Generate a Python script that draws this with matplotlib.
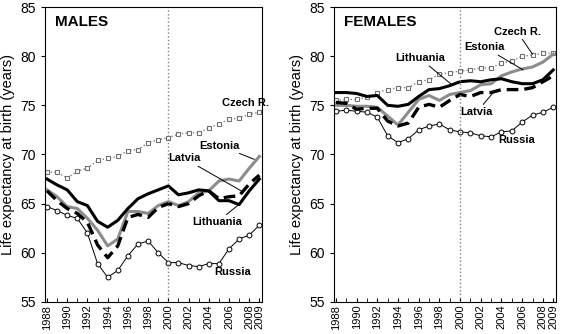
import numpy as np
import matplotlib.pyplot as plt

plt.rcParams['font.family'] = ['Liberation Sans', 'DejaVu Sans']

years = np.arange(1988, 2010)

# males
m_czech = [68.2, 68.2, 67.6, 68.3, 68.6, 69.4, 69.6, 69.8, 70.4, 70.5, 71.2, 71.5,
           71.7, 72.1, 72.2, 72.2, 72.7, 73.1, 73.6, 73.7, 74.1, 74.3]
m_russia = [64.7, 64.3, 63.8, 63.5, 62.0, 58.9, 57.5, 58.2, 59.7, 60.9, 61.2, 60.0,
            59.0, 59.0, 58.7, 58.6, 58.9, 58.9, 60.4, 61.4, 61.8, 62.8]
m_lith = [67.5, 66.9, 66.4, 65.2, 64.8, 63.2, 62.6, 63.3, 64.5, 65.5, 66.0, 66.4,
          66.8, 65.9, 66.1, 66.4, 66.3, 65.3, 65.3, 64.9, 66.3, 67.5]
m_eston = [66.4, 65.7, 64.7, 64.5, 63.5, 62.3, 60.7, 61.4, 64.2, 64.2, 64.0, 64.8,
           65.2, 64.8, 65.2, 66.1, 66.3, 67.3, 67.5, 67.3, 68.6, 69.8]
m_latv = [66.3, 65.3, 64.5, 64.0, 63.1, 60.8, 59.5, 60.7, 63.6, 63.9, 63.6, 64.6,
          65.0, 64.7, 65.0, 65.8, 66.3, 65.5, 65.7, 65.8, 67.0, 67.9]

# females
f_czech = [75.5, 75.6, 75.6, 75.8, 76.3, 76.6, 76.8, 76.8, 77.4, 77.6, 78.2, 78.3,
           78.5, 78.6, 78.8, 78.8, 79.3, 79.5, 80.0, 80.1, 80.3, 80.3]
f_russia = [74.4, 74.5, 74.4, 74.3, 73.8, 71.9, 71.2, 71.6, 72.5, 72.9, 73.1, 72.5,
            72.3, 72.2, 71.9, 71.8, 72.3, 72.4, 73.3, 74.0, 74.3, 74.8]
f_lith = [76.3, 76.3, 76.2, 75.9, 76.0, 75.0, 74.9, 75.1, 75.9, 76.6, 76.7, 77.0,
          77.4, 77.5, 77.4, 77.6, 77.7, 77.4, 77.2, 77.2, 77.6, 78.6]
f_eston = [75.0, 75.0, 74.9, 74.9, 74.8, 73.9, 73.0, 74.3, 75.6, 76.0, 75.5, 76.1,
           76.3, 76.5, 77.1, 77.2, 78.0, 78.4, 78.7, 78.9, 79.4, 80.2]
f_latv = [75.3, 75.2, 74.6, 74.7, 74.7, 73.4, 72.9, 73.2, 74.8, 75.1, 74.8, 75.5,
          76.1, 75.9, 76.3, 76.3, 76.6, 76.6, 76.6, 76.8, 77.4, 78.0]

tick_years = list(range(1988, 2009, 2)) + [2009]

fig = plt.figure(figsize=(5.62, 3.34), dpi=100)
axL = fig.add_axes([0.080, 0.096, 0.386, 0.883])
axR = fig.add_axes([0.594, 0.096, 0.395, 0.883])


def draw(ax, czech, russia, lith, eston, latv, title):
    ax.plot(years, czech, color='#808080', ls=':', lw=1, marker='s', ms=3.5,
            mfc='white', mec='#707070', mew=0.8)
    ax.plot(years, russia, color='black', lw=0.7, marker='o', ms=3.5,
            mfc='white', mec='black', mew=0.7)
    ax.plot(years, eston, color='#8c8c8c', lw=2.2)
    ax.plot(years, lith, color='black', lw=2.2)
    ax.plot(years, latv, color='black', lw=2.4, dashes=(3.5, 1.8))
    ax.axvline(2000, color='gray', ls=':', lw=1)
    ax.set_xlim(1987.8, 2009.25)
    ax.set_ylim(55, 85)
    ax.set_yticks([55, 60, 65, 70, 75, 80, 85])
    ax.set_xticks(years, minor=True)
    ax.set_xticks(tick_years)
    ax.set_xticklabels([str(y) for y in tick_years], rotation=90, fontsize=8)
    ax.tick_params(axis='x', which='both', direction='in', length=3, pad=2)
    ax.tick_params(axis='y', direction='out', length=3, labelsize=10)
    ax.set_ylabel('Life expectancy at birth (years)', fontsize=10.5)
    ax.text(1988.8, 83.5, title, fontsize=11, fontweight='bold', va='center')


draw(axL, m_czech, m_russia, m_lith, m_eston, m_latv, 'MALES')
draw(axR, f_czech, f_russia, f_lith, f_eston, f_latv, 'FEMALES')

lab = dict(fontsize=8, fontweight='bold', ha='center', va='center')
arr = dict(arrowstyle='-', color='black', lw=0.7, shrinkA=0, shrinkB=0)

# male labels
axL.text(2007.6, 75.2, 'Czech R.', **lab)
axL.annotate('Estonia', xy=(2008.5, 69.5), xytext=(2005.1, 70.9), arrowprops=arr, **lab)
axL.annotate('Latvia', xy=(2007.2, 66.3), xytext=(2001.6, 69.6), arrowprops=arr, **lab)
axL.annotate('Lithuania', xy=(2007.2, 65.1), xytext=(2004.8, 63.1), arrowprops=arr, **lab)
axL.text(2006.4, 58.0, 'Russia', **lab)

# female labels
axR.annotate('Czech R.', xy=(2007.0, 80.2), xytext=(2005.5, 82.5), arrowprops=arr, **lab)
axR.annotate('Estonia', xy=(2006.1, 78.6), xytext=(2002.4, 80.9), arrowprops=arr, **lab)
axR.annotate('Lithuania', xy=(1999.2, 77.1), xytext=(1996.1, 79.8), arrowprops=arr, **lab)
axR.annotate('Latvia', xy=(2003.2, 76.3), xytext=(2001.6, 74.3), arrowprops=arr, **lab)
axR.text(2005.5, 71.5, 'Russia', **lab)

fig.savefig('out.png', dpi=100)
